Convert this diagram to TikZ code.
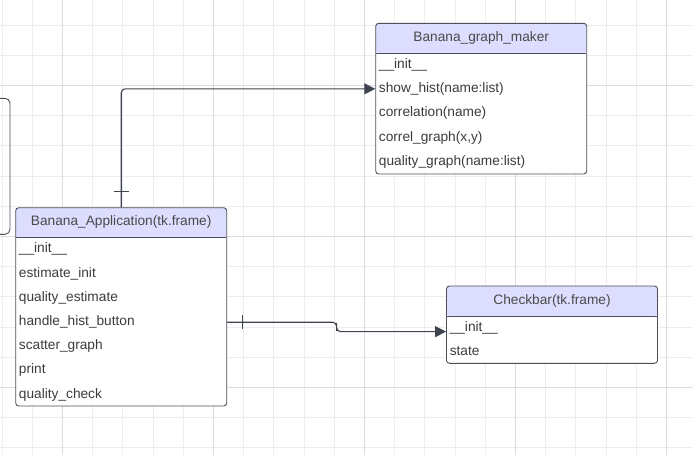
\documentclass[tikz,border=0pt]{standalone}
\usepackage{fontspec}
\setmainfont{Liberation Sans}
\usetikzlibrary{arrows.meta,calc}
\definecolor{gridminor}{HTML}{EDEDED}
\definecolor{gridmajor}{HTML}{DDDDDD}
\definecolor{headfill}{HTML}{DDDDFF}
\definecolor{boxline}{HTML}{4B505A}
\definecolor{textgray}{HTML}{3C3C3C}
\definecolor{titlegray}{HTML}{4A4A4A}
\definecolor{linkgray}{HTML}{3E4550}
\tikzset{
  classbox/.style={draw=boxline, line width=0.9pt, fill=white, rounded corners=3pt,
    minimum width=211pt, inner sep=0pt,
    path picture={
      \fill[headfill] (path picture bounding box.north west) rectangle ([yshift=-30pt]path picture bounding box.north east);
      \draw[boxline, line width=0.9pt] ([yshift=-30pt]path picture bounding box.north west) -- ([yshift=-30pt]path picture bounding box.north east);
    }},
  classtitle/.style={text=titlegray, font=\fontsize{13.7}{16}\selectfont, inner sep=0pt},
  member/.style={anchor=base west, text=textgray, font=\fontsize{13.7}{16}\selectfont, inner sep=0pt},
  link/.style={draw=linkgray, line width=1.1pt, rounded corners=4pt, -{Triangle[length=11pt,width=11pt]}},
  crossbar/.style={draw=linkgray, line width=0.9pt}
}
\begin{document}
\begin{tikzpicture}[x=1pt, y=-1pt]
\useasboundingbox (0,0) rectangle (693,455);

\foreach \i in {0,...,22} \draw[gridminor, line width=0.8pt] ({2+30.2*\i},0) -- ++(0,455);
\foreach \j in {0,...,14} \draw[gridminor, line width=0.8pt] (0,{25+30.2*\j}) -- ++(693,0);
\foreach \gx in {62.4,213.4,364.4,515.4,666.4} \draw[gridmajor, line width=0.9pt] (\gx,0) -- ++(0,455);
\foreach \gy in {85.4,236.4,387.4} \draw[gridmajor, line width=0.9pt] (0,\gy) -- ++(693,0);

\node[draw=boxline, line width=0.9pt, rounded corners=5pt, minimum width=40pt, minimum height=136pt] (leftbox) at (-10,166.3) {};

\node[classbox, minimum height=150.7pt] (graph) at (481.2,98.65) {};
\node[classtitle] (graph-title) at ([yshift=-15pt]graph.north) {Banana\_graph\_maker};
\foreach \m [count=\i] in {\_\_init\_\_, show\_hist(name:list), correlation(name), {correl\_graph(x,y)}, quality\_graph(name:list)}
  \node[member] (graph-\i) at ([xshift=3.5pt, yshift={-45.7pt-24.2pt*(\i-1)}]graph.north west) {\m};

\node[classbox, minimum height=198.3pt] (app) at (121.2,306.85) {};
\node[classtitle] (app-title) at ([yshift=-15pt]app.north) {Banana\_Application(tk.frame)};
\foreach \m [count=\i] in {\_\_init\_\_, estimate\_init, quality\_estimate, handle\_hist\_button, scatter\_graph, print, quality\_check}
  \node[member] (app-\i) at ([xshift=3.5pt, yshift={-45.7pt-24.2pt*(\i-1)}]app.north west) {\m};

\node[classbox, minimum height=77.3pt] (check) at (552,324.65) {};
\node[classtitle] (check-title) at ([yshift=-15pt]check.north) {Checkbar(tk.frame)};
\foreach \m [count=\i] in {\_\_init\_\_, state}
  \node[member] (check-\i) at ([xshift=3.5pt, yshift={-45.7pt-24.2pt*(\i-1)}]check.north west) {\m};

\coordinate (appout) at ([yshift=-15.4pt]app.east);
\coordinate (checkin) at ([yshift=-7pt]check.west);

\draw[link] (app.north) |- ([yshift=-66pt]graph.north west);
\draw[crossbar] ([xshift=-7.5pt,yshift=15.7pt]app.north) -- ([xshift=7.5pt,yshift=15.7pt]app.north);

\draw[link] (appout) -| ($(appout)!.5!(checkin)$) |- (checkin);
\draw[crossbar] ([xshift=15pt,yshift=7pt]appout) -- ([xshift=15pt,yshift=-7pt]appout);
\end{tikzpicture}
\end{document}
